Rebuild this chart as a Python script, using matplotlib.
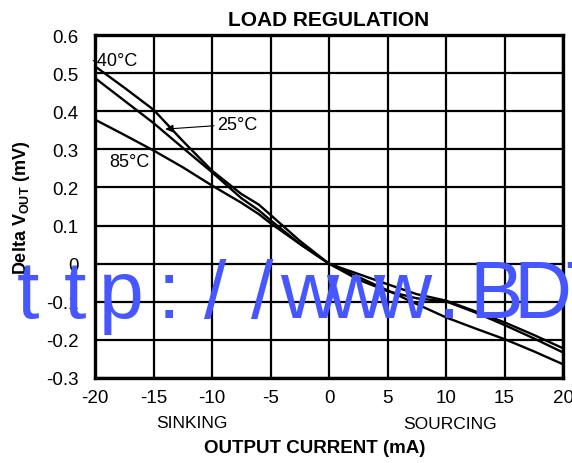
import matplotlib
matplotlib.use('Agg')
import matplotlib.pyplot as plt

plt.rcParams['font.family'] = ['Liberation Sans', 'DejaVu Sans']
plt.rcParams['mathtext.fontset'] = 'custom'
plt.rcParams['mathtext.bf'] = 'Liberation Sans:bold'
plt.rcParams['mathtext.rm'] = 'Liberation Sans'

# Output current (mA)
current = [-20, -17.5, -15, -12.5, -10, -7.5, -6, -5, -2.5, 0,
           2.5, 5, 7.5, 10, 12.5, 15, 17.5, 20]

# Delta Vout (mV) per temperature
v_m40 = [0.518, 0.462, 0.404, 0.322, 0.244, 0.183, 0.155, 0.128, 0.060, 0.0,
         -0.035, -0.070, -0.106, -0.141, -0.170, -0.198, -0.230, -0.264]
v_25 = [0.487, 0.428, 0.369, 0.304, 0.240, 0.172, 0.140, 0.114, 0.052, 0.0,
        -0.042, -0.072, -0.091, -0.099, -0.128, -0.161, -0.196, -0.233]
v_85 = [0.378, 0.338, 0.297, 0.253, 0.205, 0.160, 0.130, 0.106, 0.052, 0.0,
        -0.027, -0.054, -0.080, -0.097, -0.125, -0.154, -0.187, -0.222]

xticks = [-20, -15, -10, -5, 0, 5, 10, 15, 20]
yticks = [-0.3, -0.2, -0.1, 0, 0.1, 0.2, 0.3, 0.4, 0.5, 0.6]
ytick_labels = ['-0.3', '-0.2', '-0.1', '0', '0.1', '0.2', '0.3', '0.4', '0.5', '0.6']

fig = plt.figure(figsize=(5.72, 4.64), dpi=100)
ax = fig.add_axes([0.1661, 0.1832, 0.8182, 0.7392])

for v in (v_m40, v_25, v_85):
    ax.plot(current, v, color='black', lw=1.7, zorder=3)

ax.set_xlim(-20, 20)
ax.set_ylim(-0.3, 0.6)
ax.set_xticks(xticks)
ax.set_xticklabels([str(t) for t in xticks])
ax.set_yticks(yticks)
ax.set_yticklabels(ytick_labels)
ax.tick_params(axis='y', length=0, labelsize=13.5, pad=12)
ax.tick_params(axis='x', length=0, labelsize=13.5, pad=8)
ax.grid(True, color='black', lw=1.6)
for s in ax.spines.values():
    s.set_linewidth(2.4)

ax.text(-20.3, 0.532, '-40°C', fontsize=13, va='center', ha='left', zorder=4)
ax.text(-18.8, 0.269, '85°C', fontsize=13, va='center', ha='left')
ax.annotate('25°C', xy=(-14.0, 0.353), xytext=(-9.6, 0.366), fontsize=13,
            va='center', ha='left',
            arrowprops=dict(arrowstyle='-|>', color='black', lw=0.8,
                            mutation_scale=12, shrinkA=0, shrinkB=0))

ax.set_title('LOAD REGULATION', fontsize=15, fontweight='bold', pad=7)
ax.set_ylabel(r'Delta V$_{\mathbf{OUT}}$ (mV)', fontsize=13,
              fontweight='bold', labelpad=10)
fig.text(192 / 572, 1 - 424 / 464, 'SINKING', fontsize=12.5, ha='center', va='center')
fig.text(450 / 572, 1 - 425 / 464, 'SOURCING', fontsize=12.5, ha='center', va='center')
fig.text(315 / 572, 1 - 449 / 464, 'OUTPUT CURRENT (mA)', fontsize=13.5,
         fontweight='bold', ha='center', va='center')

# watermark, monospaced-looking blue characters
wm = 'ttp://www.BDT'
for i, ch in enumerate(wm):
    fig.text((28 + 46.8 * i) / 572, 1 - 318 / 464, ch, fontsize=58,
             color='#4657ff', ha='center', va='baseline', zorder=10)

fig.savefig('out.png', dpi=100)
